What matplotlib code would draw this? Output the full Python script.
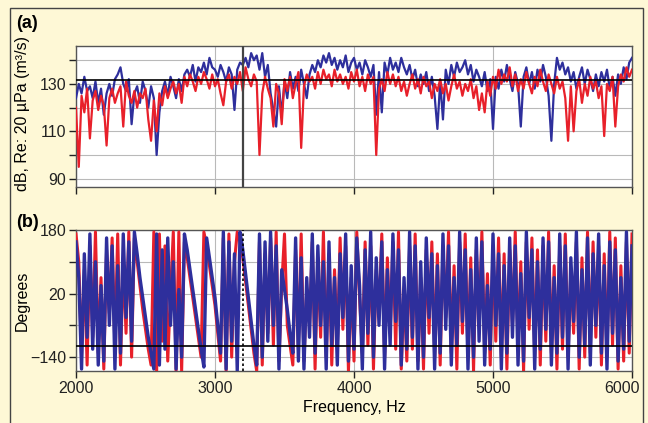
import numpy as np
import matplotlib
matplotlib.use("Agg")
import matplotlib.pyplot as plt
import matplotlib.transforms as mtrans
from matplotlib.patches import Rectangle

plt.rcParams['font.family'] = ['Liberation Sans', 'DejaVu Sans']

# frequency axis, one value every 20 Hz from 2000 to 6000
freq_start, freq_step = 2000, 20

# ---- (a) magnitude, dB ----
mag_blue = [
    124, 130, 126, 133, 127, 129, 124, 131, 122, 128,
    117, 126, 130, 125, 132, 134, 137, 130, 127, 132,
    113, 126, 129, 122, 131, 127, 120, 129, 124, 100,
    118, 127, 131, 125, 133, 129, 124, 132, 127, 134,
    136, 133, 138, 131, 137, 135, 139, 134, 141, 137,
    136, 133, 138, 135, 131, 137, 134, 119, 136, 139,
    138, 141, 137, 143, 140, 142, 136, 143, 133, 138,
    126, 119, 112, 129, 117, 131, 124, 135, 128, 133,
    127, 136, 130, 124, 134, 138, 135, 140, 137, 142,
    139, 143, 138, 141, 136, 140, 137, 142, 135, 139,
    141, 136, 139, 134, 140, 137, 133, 138, 117, 135,
    118, 139, 134, 141, 136, 139, 135, 141, 137, 134,
    138, 132, 136, 129, 134, 130, 135, 127, 133, 125,
    111, 131, 115, 136, 130, 138, 133, 139, 135, 137,
    140, 134, 138, 131, 136, 133, 129, 135, 127, 132,
    111, 133, 128, 136, 131, 138, 132, 127, 135, 130,
    112, 133, 137, 130, 135, 128, 136, 131, 138, 133,
    125, 106, 130, 141, 136, 139, 134, 137, 131, 135,
    128, 133, 137, 130, 136, 132, 127, 134, 129, 135,
    131, 136, 128, 133, 125, 134, 130, 137, 132, 139,
    141]

mag_red = [
    120, 95, 125, 118, 128, 107, 123, 127, 119, 125,
    121, 104, 124, 128, 122, 126, 129, 112, 131, 125,
    122, 127, 120, 126, 124, 128, 115, 106, 123, 110,
    126, 121, 129, 124, 128, 131, 126, 130, 122, 133,
    129, 134, 131, 127, 133, 130, 135, 132, 128, 134,
    129, 132, 126, 121, 131, 134, 128, 133, 130, 135,
    127, 137, 132, 129, 134, 131, 100, 126, 133, 128,
    124, 112, 130, 126, 113, 132, 127, 133, 124, 130,
    135, 103, 129, 134, 131, 133, 128, 135, 130, 136,
    132, 134, 129, 136, 131, 134, 130, 133, 128, 135,
    131, 136, 129, 133, 127, 134, 130, 133, 100, 128,
    132, 127, 135, 130, 134, 129, 133, 127, 131, 125,
    130, 134, 128, 132, 126, 133, 129, 131, 124, 130,
    127, 132, 126, 130, 123, 129, 134, 128, 131, 125,
    130, 127, 132, 124, 129, 119, 126, 118, 131, 125,
    133, 128, 136, 130, 134, 131, 137, 129, 134, 127,
    132, 128, 135, 130, 126, 133, 129, 136, 131, 127,
    134, 130, 126, 133, 128, 131, 124, 106, 129, 110,
    127, 132, 122, 130, 125, 133, 128, 131, 124, 129,
    108, 130, 127, 133, 112, 129, 134, 131, 137, 133,
    136]

# ---- (b) phase, degrees ----
ph_blue = [
    150, 60, -170, 120, -90, 170, -120, 100, -160, 40,
    -150, 160, -60, 140, -170, 90, -130, 170, -40, 150,
    -100, 175, 120, 60, 10, -40, -90, -130, -170, 170,
    -160, 130, -120, 160, -60, 100, -170, 30, -140, 170,
    130, 80, 30, -20, -70, -120, -165, 160, 110, 60,
    10, -60, -130, 175, -170, 150, -100, 120, -175, 175,
    130, 70, 10, -50, -110, -160, 170, -140, 150, -100,
    175, -60, 140, -170, 80, 30, -20, -80, -130, 160,
    -150, 110, -170, 60, -90, 170, -130, 140, -60, 100,
    -170, 150, -110, 60, -160, 120, -40, 170, -150, 90,
    -120, 160, 40, -170, 130, -80, 175, -140, 110, -60,
    150, -170, 80, -110, 170, -50, 130, -160, 60, -120,
    175, -90, 140, -170, 100, -140, 160, -40, 120, -170,
    90, -130, 170, -70, 140, -160, 60, -110, 175, -50,
    130, -170, 80, -140, 160, -100, 150, -160, 40, -120,
    170, -60, 120, -170, 90, -130, 160, -90, 140, -160,
    70, -150, 175, -40, 130, -170, 100, -120, 160, -70,
    150, -160, 60, -130, 170, -90, 140, -170, 110, -50,
    175, -140, 80, -110, 160, -160, 120, -60, 170, -130,
    90, -170, 150, -80, 130, -150, 60, -120, 175, -100,
    140]

ph_red = [
    170, 100, -140, 80, -160, 140, -90, 175, -130, 60,
    -170, 130, -30, 160, -120, 170, -160, 110, -80, 175,
    -140, 160, 100, 40, -20, -70, -120, -160, 175, -175,
    170, -100, 140, -150, 20, 175, -175, 175, -175, 150,
    110, 60, 10, -40, -90, -140, 175, 140, 90, 40,
    -10, -80, -150, 160, -175, 170, -140, 100, 175, 150,
    110, 50, -10, -70, -130, -175, 150, -160, 120, -80,
    160, -110, 175, -150, 40, 170, -60, -110, -160, 130,
    -120, 170, -150, 30, -60, 150, -170, 110, -90, 175,
    -140, 120, -160, 80, -120, 160, -70, 140, -175, 60,
    -150, 175, 10, -130, 150, -110, 140, -170, 80, -30,
    170, -140, 110, -80, 150, -120, 175, -170, 30, -150,
    140, -120, 170, -150, 60, -170, 130, -80, 150, -140,
    120, -160, 140, -40, 175, -130, 90, -170, 150, -80,
    170, -140, 110, -175, 130, -60, 175, -130, 70, -160,
    140, -100, 160, -140, 120, -170, 130, -60, 175, -120,
    100, -175, 150, -70, 160, -140, 130, -160, 140, -100,
    175, -130, 90, -170, 140, -120, 170, -140, 80, -80,
    150, -170, 110, -140, 175, -130, 150, -90, 140, -160,
    120, -140, 175, -110, 160, -170, 90, -150, 150, -130,
    170]

freq = freq_start + freq_step * np.arange(len(mag_blue))

BLUE = '#2e2f9c'
RED = '#e8202a'
BG = '#fef8d6'
GRID = '#b9b9b9'
FS = 11.5

fig = plt.figure(figsize=(6.48, 4.23), dpi=100, facecolor=BG)
fig.patches.append(Rectangle((10/648, -0.01), 633/648, 1 - 8/423 + 0.01,
                             transform=fig.transFigure, fill=False,
                             edgecolor='#444444', lw=1.0))

ax1 = fig.add_axes([76/648, 1 - 187/423, 556/648, 141/423])
ax2 = fig.add_axes([76/648, 1 - 371/423, 556/648, 141/423])

### panel (a)
ax1.plot(freq, mag_blue, color=BLUE, lw=1.6, zorder=3)
ax1.plot(freq, mag_red, color=RED, lw=1.6, zorder=3)
ax1.axhline(131.7, color='black', lw=1.2, zorder=5)
ax1.axvline(3200, color='#444444', lw=1.6, zorder=4)
ax1.set_xlim(2000, 6000)
ax1.set_ylim(86.5, 146)
ax1.set_yticks([90, 100, 110, 120, 130, 140])
ax1.set_yticklabels(['90', '', '110', '', '130', ''])
ax1.set_xticks([2000, 3000, 4000, 5000, 6000])
ax1.set_xticklabels([])
ax1.set_ylabel('dB, Re: 20 µPa (m³/s)', fontsize=FS)
ax1.yaxis.set_label_coords(-0.083, 0.52)

### panel (b)
ax2.plot(freq, ph_red, color=RED, lw=2.2, zorder=3)
ax2.plot(freq, ph_blue, color=BLUE, lw=2.4, zorder=3)
ax2.axhline(-111, color='black', lw=1.2, zorder=5)
ax2.axvline(3200, color='black', lw=1.2, ls=(0, (1.5, 1.5)), zorder=4)
ax2.set_xlim(2000, 6000)
ax2.set_ylim(-175, 180)
ax2.set_yticks([-140, -60, 20, 100, 180])
ax2.set_yticklabels(['\u2212140', '', '20', '', '180'])
ax2.set_xticks([2000, 3000, 4000, 5000, 6000])
ax2.set_xlabel('Frequency, Hz', fontsize=FS, labelpad=3)
ax2.set_ylabel('Degrees', fontsize=FS)
ax2.yaxis.set_label_coords(-0.083, 0.5)

for ax in (ax1, ax2):
    ax.set_facecolor('white')
    ax.grid(True, color=GRID, lw=0.8, zorder=0)
    ax.set_axisbelow(True)
    for s in ax.spines.values():
        s.set_color('#555555')
        s.set_linewidth(1.0)
    ax.tick_params(direction='out', length=5, width=1, labelsize=FS,
                   colors='#222222', pad=2)

# last x label sits a little left so it stays inside the frame
lab = ax2.get_xticklabels()[-1]
lab.set_transform(lab.get_transform() + mtrans.ScaledTranslation(-0.10, 0, fig.dpi_scale_trans))

fig.text(16/648, 1 - 24/423, '(a)', fontsize=13, fontweight='bold', va='center')
fig.text(16/648, 1 - 222/423, '(b)', fontsize=13, fontweight='bold', va='center')

plt.savefig('out.png', dpi=100, facecolor=BG)
